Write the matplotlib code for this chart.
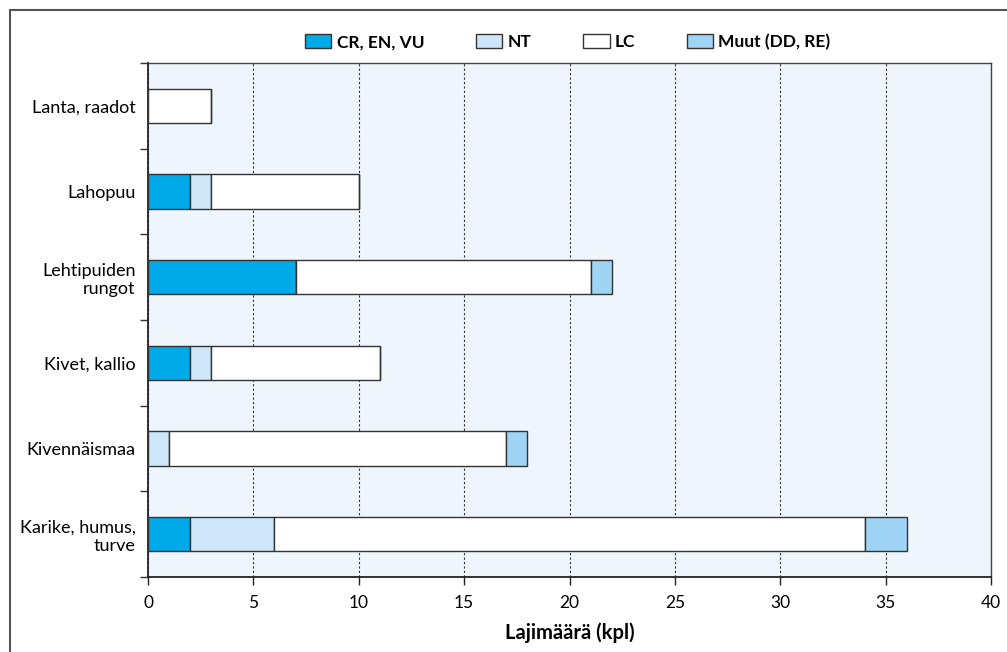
import matplotlib
matplotlib.use("Agg")
import matplotlib.pyplot as plt
from matplotlib.patches import Rectangle
from matplotlib.ticker import FixedLocator

categories = ["Lanta, raadot", "Lahopuu", "Lehtipuiden\nrungot", "Kivet, kallio",
              "Kivennäismaa", "Karike, humus,\nturve"]
series_names = ["CR, EN, VU", "NT", "LC", "Muut (DD, RE)"]
cr = [0, 2, 7, 2, 0, 2]
nt = [0, 1, 0, 1, 1, 4]
lc = [3, 7, 14, 8, 16, 28]
muut = [0, 0, 1, 0, 1, 2]
colors = ["#00A9E8", "#CDE7F8", "#FFFFFF", "#A0D4F4"]
xticks = [0, 5, 10, 15, 20, 25, 30, 35, 40]

plt.rcParams['font.family'] = ['Lato', 'DejaVu Sans']

fig = plt.figure(figsize=(10.07, 6.52), dpi=100)
ax = fig.add_axes([148/1007, 1 - 577/652, (991-148)/1007, (577-63)/652])
ax.set_facecolor("#EEF5FC")

ypos = list(range(len(categories)))
left = [0]*len(categories)
handles = []
for name, vals, col in zip(series_names, [cr, nt, lc, muut], colors):
    b = ax.barh(ypos, vals, left=left, height=0.4, color=col, edgecolor="#333333",
                linewidth=1.0, label=name, zorder=3)
    handles.append(b)
    left = [l + v for l, v in zip(left, vals)]

ax.set_xlim(0, 40)
ax.set_ylim(len(categories) - 0.5, -0.5)
ax.set_xticks(xticks)
ax.set_xticklabels([str(t) for t in xticks], fontsize=12.5)
ax.set_yticks(ypos)
ax.set_yticklabels(categories, fontsize=13)
for t in ax.get_yticklabels():
    t.set_multialignment('right')
ax.tick_params(axis='y', which='major', length=0, pad=9)
ax.yaxis.set_minor_locator(FixedLocator([i - 0.5 for i in range(len(categories) + 1)]))
ax.tick_params(axis='y', which='minor', length=6, width=1, color="#333333")
ax.tick_params(axis='x', which='major', length=6, width=1, color="#222222", pad=7)

ax.xaxis.grid(True, linestyle=(0, (2, 2)), color="#333333", linewidth=0.8, zorder=0)
ax.set_axisbelow(True)
for s in ["left", "bottom"]:
    ax.spines[s].set_color("#222222")
    ax.spines[s].set_linewidth(1.3)
for s in ["top", "right"]:
    ax.spines[s].set_color("#444444")
    ax.spines[s].set_linewidth(1.0)

ax.set_xlabel("Lajimäärä (kpl)", fontsize=14.5, fontweight="bold", labelpad=8)

leg = fig.legend(handles=handles, labels=series_names, loc="center",
                 bbox_to_anchor=(568/1007, 1 - 42/652), ncol=4, frameon=False,
                 prop={'weight': 'bold', 'size': 12.5}, handlelength=1.5, handleheight=0.8,
                 columnspacing=3.0, handletextpad=0.3)

fig.patches.append(Rectangle((10/1007, -0.1), 1.2, 1 - 10/652 + 0.1,
                             transform=fig.transFigure, fill=False,
                             edgecolor="#555555", linewidth=1.5))

fig.savefig("out.png", dpi=100)
